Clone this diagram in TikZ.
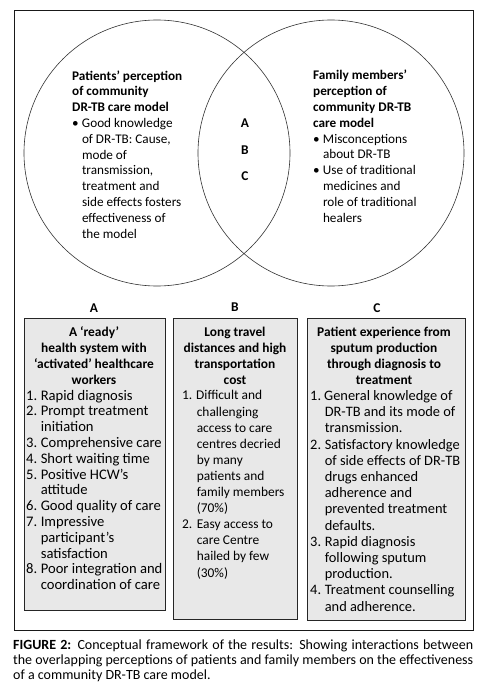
\documentclass[tikz,border=0pt]{standalone}
\usepackage{fontspec}
\setmainfont{Carlito}
\definecolor{boxgray}{RGB}{232,232,232}
\newcommand\bu{\makebox[9.8pt][l]{\textbullet}}
\newcommand\bi{\hspace*{9.8pt}}
\newlength\numw
\setlength\numw{14.6pt}
\newcommand\nm[1]{\makebox[\numw][l]{#1}}
\newcommand\nh{\hspace*{\numw}}
\newcommand\jl[1]{\makebox[460pt][s]{#1}}
\begin{document}
\begin{tikzpicture}[x=1pt,y=-1pt,
  every node/.style={inner sep=0pt, font=\fontsize{13.4}{16}\selectfont},
  circ/.style={draw=black!80, line width=0.6pt, circle, minimum size=266pt},
  gbox/.style={draw=black!85, fill=boxgray, line width=0.8pt, anchor=north west},
  head/.style={font=\fontsize{13.4}{16}\selectfont\bfseries, align=center, anchor=base},
  lbl/.style={font=\fontsize{13.4}{16}\selectfont\bfseries, anchor=center},
  txt/.style={align=left, anchor=base west}]
\fill[white] (0,0) rectangle (487,698);
\useasboundingbox (0,0) rectangle (487,698);
\draw[line width=0.8pt, draw=black!90] (14,10) rectangle (473,630);
\node[circ] (cL) at (157,153) {};
\node[circ] (cR) at (331,153) {};
% left circle text (anchor = baseline of last line)
\node[txt, font=\fontsize{13.2}{15.8}\selectfont] (tL) at (72,238) {\textbf{Patients' perception}\\
\textbf{of community}\\
\textbf{DR-TB care model}\\
\bu Good knowledge\\
\bi of DR-TB: Cause,\\
\bi mode of\\
\bi transmission,\\
\bi treatment and\\
\bi side effects fosters\\
\bi effectiveness of\\
\bi the model};
% right circle text
\node[txt, font=\fontsize{13.2}{15.8}\selectfont] (tR) at (313,222) {\textbf{Family members'}\\
\textbf{perception of}\\
\textbf{community DR-TB}\\
\textbf{care model}\\
\bu Misconceptions\\
\bi about DR-TB\\
\bu Use of traditional\\
\bi medicines and\\
\bi role of traditional\\
\bi healers};
% centre letters
\node[lbl] (mA) at (245,123) {A};
\node[lbl] (mB) at (245,150) {B};
\node[lbl] (mC) at (245,176) {C};
% box labels
\node[lbl] (lA) at (94,308) {A};
\node[lbl] (lB) at (235,307) {B};
\node[lbl] (lC) at (377,308) {C};
% boxes
\node[gbox, minimum width=141pt, minimum height=292pt] (bA) at (24,318) {};
\node[gbox, minimum width=124pt, minimum height=301pt] (bB) at (173,318) {};
\node[gbox, minimum width=158pt, minimum height=302pt] (bC) at (307,318) {};
% box A
\node[head] (hA) at (94,384) {A `ready'\\health system with\\`activated' healthcare\\workers};
\node[txt, font=\fontsize{14.6}{15.8}\selectfont] (iA) at (26,589.6) {\nm{1.}Rapid diagnosis\\
\nm{2.}Prompt treatment\\
\nh initiation\\
\nm{3.}Comprehensive care\\
\nm{4.}Short waiting time\\
\nm{5.}Positive HCW's\\
\nh attitude\\
\nm{6.}Good quality of care\\
\nm{7.}Impressive\\
\nh participant's\\
\nh satisfaction\\
\nm{8.}Poor integration and\\
\nh coordination of care};
% box B
\node[head] (hB) at (235,384) {Long travel\\distances and high\\transportation\\cost};
\node[txt, font=\fontsize{13.4}{16.1}\selectfont] (iB) at (182,577) {\setlength\numw{14pt}\nm{1.}Difficult and\\
\nh challenging\\
\nh access to care\\
\nh centres decried\\
\nh by many\\
\nh patients and\\
\nh family members\\
\nh (70\%)\\
\nm{2.}Easy access to\\
\nh care Centre\\
\nh hailed by few\\
\nh (30\%)};
% box C
\node[head] (hC) at (384,384) {Patient experience from\\sputum production\\through diagnosis to\\treatment};
\node[txt, font=\fontsize{14.4}{16.2}\selectfont] (iC) at (310,611) {\setlength\numw{14pt}\nm{1.}General knowledge of\\
\nh DR-TB and its mode of\\
\nh transmission.\\
\nm{2.}Satisfactory knowledge\\
\nh of side effects of DR-TB\\
\nh drugs enhanced\\
\nh adherence and\\
\nh prevented treatment\\
\nh defaults.\\
\nm{3.}Rapid diagnosis\\
\nh following sputum\\
\nh production.\\
\nm{4.}Treatment counselling\\
\nh and adherence.};
% caption
\node[txt, font=\fontsize{14}{15}\selectfont] (cap) at (13,679) {\jl{\textbf{FIGURE 2:} Conceptual framework of the results: Showing interactions between}\\
\jl{the overlapping perceptions of patients and family members on the effectiveness}\\
of a community DR-TB care model.};
\end{tikzpicture}
\end{document}
